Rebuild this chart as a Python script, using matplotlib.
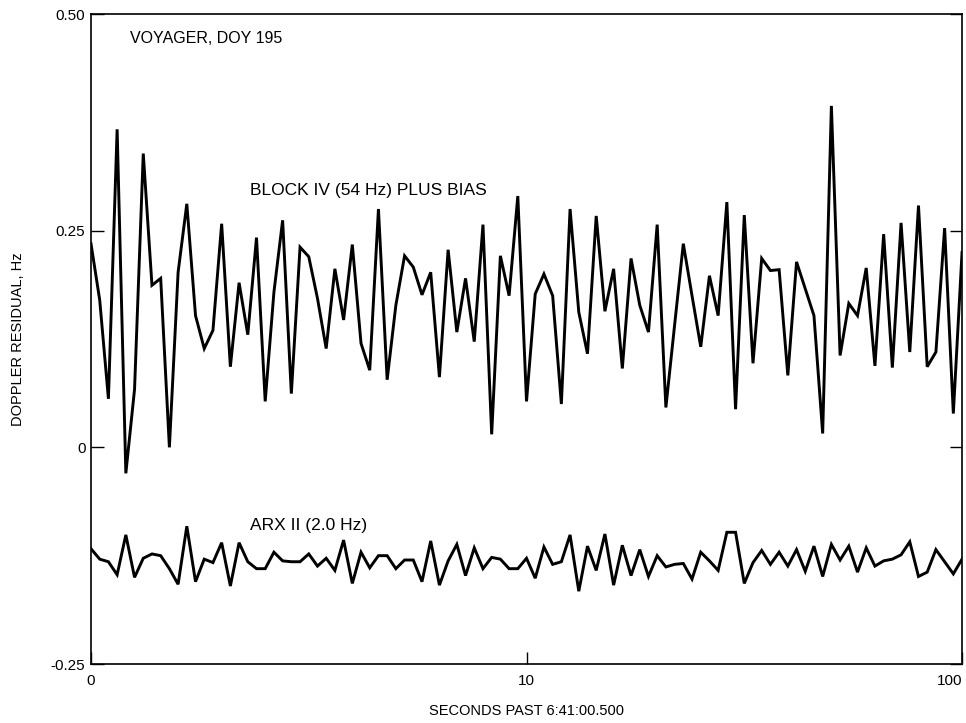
import numpy as np
import matplotlib.pyplot as plt

plt.rcParams['font.family'] = ['Liberation Sans', 'DejaVu Sans']

# Doppler residuals, one value per sample (Hz)
block_iv = [
    0.235, 0.170, 0.056, 0.367, -0.030, 0.067, 0.339, 0.187, 0.195, 0.000,
    0.202, 0.281, 0.152, 0.114, 0.135, 0.258, 0.093, 0.190, 0.130, 0.242,
    0.053, 0.179, 0.262, 0.062, 0.231, 0.220, 0.172, 0.114, 0.206, 0.147,
    0.234, 0.120, 0.089, 0.275, 0.078, 0.164, 0.221, 0.208, 0.176, 0.202,
    0.081, 0.228, 0.133, 0.195, 0.122, 0.257, 0.015, 0.221, 0.175, 0.290,
    0.053, 0.177, 0.200, 0.175, 0.050, 0.275, 0.156, 0.108, 0.267, 0.157,
    0.206, 0.091, 0.218, 0.164, 0.133, 0.257, 0.046, 0.141, 0.235, 0.175,
    0.116, 0.198, 0.152, 0.283, 0.044, 0.268, 0.097, 0.218, 0.204, 0.205,
    0.083, 0.214, 0.183, 0.152, 0.016, 0.394, 0.106, 0.166, 0.152, 0.207,
    0.094, 0.246, 0.092, 0.259, 0.110, 0.279, 0.093, 0.110, 0.253, 0.039,
    0.225,
]

arx_ii = [
    -0.117, -0.129, -0.132, -0.147, -0.101, -0.150, -0.128, -0.123, -0.125, -0.140,
    -0.158, -0.091, -0.155, -0.129, -0.133, -0.110, -0.160, -0.110, -0.132, -0.140,
    -0.140, -0.121, -0.131, -0.132, -0.132, -0.123, -0.137, -0.128, -0.142, -0.107,
    -0.157, -0.121, -0.139, -0.125, -0.125, -0.140, -0.130, -0.130, -0.155, -0.108,
    -0.159, -0.131, -0.112, -0.148, -0.116, -0.140, -0.127, -0.129, -0.140, -0.140,
    -0.128, -0.151, -0.115, -0.135, -0.132, -0.101, -0.166, -0.114, -0.142, -0.100,
    -0.159, -0.113, -0.148, -0.118, -0.149, -0.125, -0.138, -0.135, -0.134, -0.152,
    -0.121, -0.131, -0.142, -0.098, -0.098, -0.157, -0.133, -0.119, -0.135, -0.121,
    -0.137, -0.118, -0.143, -0.114, -0.149, -0.112, -0.130, -0.114, -0.144, -0.116,
    -0.137, -0.131, -0.129, -0.124, -0.109, -0.149, -0.144, -0.118, -0.132, -0.146,
    -0.129,
]

sample = np.arange(len(block_iv))

y_ticks = [0.50, 0.25, 0.0, -0.25]
y_tick_labels = ['0.50', '0.25', '0', '-0.25']
x_ticks = [0, 50, 100]
x_tick_labels = ['0', '10', '100']

fig = plt.figure(figsize=(9.66, 7.23), dpi=100)
ax = fig.add_axes([0.0942, 0.0816, 0.9017, 0.899])

ax.plot(sample, block_iv, color='black', linewidth=2.1, solid_joinstyle='miter')
ax.plot(sample, arx_ii, color='black', linewidth=2.1, solid_joinstyle='miter')

ax.set_xlim(0, 100)
ax.set_ylim(-0.25, 0.50)

ax.set_yticks(y_ticks)
ax.set_yticklabels(y_tick_labels)
ax.set_xticks(x_ticks)
ax.set_xticklabels(x_tick_labels)
ax.tick_params(axis='both', direction='in', length=9, width=1.0,
               labelsize=11, colors='black')
ax.tick_params(axis='y', right=True, pad=4)
ax.tick_params(axis='x', pad=7)
# keep the last x label inside the figure edge
ax.get_xticklabels()[-1].set_ha('right')

for spine in ax.spines.values():
    spine.set_linewidth(1.2)
    spine.set_color('black')

ax.text(4.5, 0.472, 'VOYAGER, DOY 195', fontsize=11.5, va='center', ha='left')
ax.text(18.3, 0.296, 'BLOCK IV (54 Hz) PLUS BIAS', fontsize=12.5, va='center', ha='left')
ax.text(18.3, -0.090, 'ARX II (2.0 Hz)', fontsize=12.5, va='center', ha='left')

ax.set_xlabel('SECONDS PAST 6:41:00.500', fontsize=10.5)
ax.xaxis.set_label_coords(0.5, -0.062)
ax.set_ylabel('DOPPLER RESIDUAL, Hz', fontsize=10.5)
ax.yaxis.set_label_coords(-0.076, 0.5)

fig.savefig('out.png', dpi=100)
